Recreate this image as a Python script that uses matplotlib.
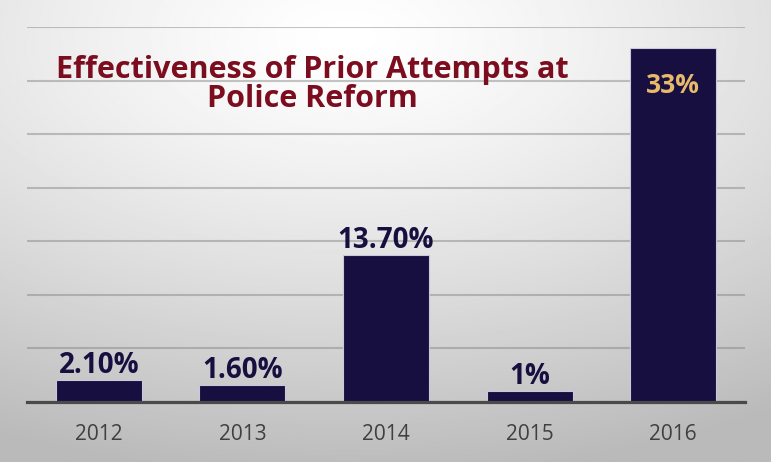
import numpy as np
import matplotlib
import matplotlib.pyplot as plt
matplotlib.use('Agg')

years = ['2012', '2013', '2014', '2015', '2016']
values = [2.1, 1.6, 13.7, 1.0, 33.0]
labels = ['2.10%', '1.60%', '13.70%', '1%', '33%']

title = 'Effectiveness of Prior Attempts at\nPolice Reform'

bar_color = '#170f3f'
title_color = '#7b0d1f'
gold = '#e9b96b'

fig = plt.figure(figsize=(7.71, 4.62), dpi=100)

# background: soft radial gradient, white near top centre, gray at the corners
bg = fig.add_axes([0, 0, 1, 1], zorder=0)
yy, xx = np.mgrid[0:1:300j, 0:1:500j]
r = np.sqrt(((xx - 0.45) / 1.1) ** 2 + ((yy - 0.08) / 1.0) ** 2)
shade = 1.0 - 0.27 * np.clip(r / 0.95, 0, 1) ** 1.3
bg.imshow(shade, cmap='gray', vmin=0, vmax=1, aspect='auto', extent=[0, 1, 1, 0])
bg.axis('off')

ax = fig.add_axes([27 / 771, 60 / 462, 718 / 771, 375 / 462], zorder=1)
ax.patch.set_alpha(0)
x = np.arange(len(years))
bars = ax.bar(x, values, width=0.6, color=bar_color, edgecolor='#c9c8dc',
              linewidth=0.8, zorder=3)

ax.set_xlim(-0.5, len(years) - 0.5)
ax.set_ylim(0, 35)
ax.set_yticks(np.arange(0, 36, 5))
ax.yaxis.grid(True, color='#7f7f7f', alpha=0.45, linewidth=1.5, zorder=1)
ax.set_axisbelow(True)
for s in ['top', 'right', 'left']:
    ax.spines[s].set_visible(False)
ax.spines['bottom'].set_color('#4a4a4a')
ax.spines['bottom'].set_linewidth(2.3)
ax.spines['bottom'].set_zorder(4)
ax.tick_params(axis='y', left=False, labelleft=False)
ax.tick_params(axis='x', length=0, pad=16, labelsize=15, labelcolor='#404040')
ax.set_xticks(x)
ax.set_xticklabels(years, family='Open Sans')

for i, (v, lab) in enumerate(zip(values, labels)):
    if v > 30:
        ax.annotate(lab, (i, v), xytext=(0, -17), textcoords='offset points',
                    ha='center', va='top', fontsize=19, fontweight='bold',
                    color=gold, family='Open Sans', zorder=5)
    else:
        ax.annotate(lab, (i, v), xytext=(0, 5), textcoords='offset points',
                    ha='center', va='baseline', fontsize=20, fontweight='bold',
                    color=bar_color, family='Open Sans', zorder=5)

fig.text(312 / 771, 1 - 55 / 462, title, ha='center', va='top', fontsize=22,
         fontweight='bold', color=title_color, family='Open Sans',
         linespacing=0.96, zorder=5)

fig.savefig('out.png', dpi=100)
